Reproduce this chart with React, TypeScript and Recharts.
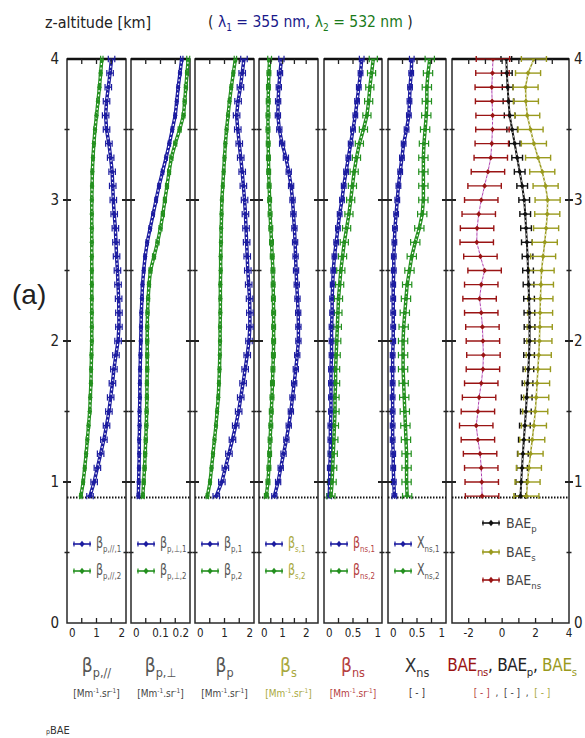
import React from "react";
import {
  ScatterChart,
  Scatter,
  XAxis,
  YAxis,
  ErrorBar,
  ReferenceArea,
  ReferenceLine,
  Legend,
} from "recharts";

const FONT = "'Liberation Sans Narrow', 'DejaVu Sans Condensed', 'Liberation Sans', Arial, sans-serif";

const BLUE = "#1c1ca0";
const GREEN = "#24901f";
const OLIVE = "#9a9a1e";
const OLIVE_TXT = "#a8a83e";
const DARKRED = "#9a1414";
const ROSE = "#b5403f";
const GREY_TXT = "#555";

// altitude levels of the profiles [km]
const Z_KM = [0.9, 1.0, 1.1, 1.2, 1.3, 1.4, 1.5, 1.6, 1.7, 1.8, 1.9, 2.0, 2.1, 2.2, 2.3, 2.4, 2.5, 2.6, 2.7, 2.8, 2.9, 3.0, 3.1, 3.2, 3.3, 3.4, 3.5, 3.6, 3.7, 3.8, 3.9, 4.0];

// beta p,// [Mm-1 sr-1]
const BETA_PAR_1 = [0.78, 0.92, 1.03, 1.14, 1.25, 1.34, 1.42, 1.48, 1.54, 1.59, 1.66, 1.73, 1.76, 1.76, 1.75, 1.73, 1.71, 1.68, 1.66, 1.64, 1.6, 1.57, 1.55, 1.53, 1.48, 1.42, 1.34, 1.31, 1.34, 1.4, 1.46, 1.51];
const BETA_PAR_2 = [0.47, 0.55, 0.6, 0.65, 0.69, 0.73, 0.77, 0.79, 0.81, 0.82, 0.83, 0.84, 0.84, 0.84, 0.84, 0.84, 0.84, 0.84, 0.84, 0.84, 0.84, 0.84, 0.85, 0.86, 0.88, 0.91, 0.95, 1.0, 1.05, 1.1, 1.14, 1.18];
// beta p,perp
const BETA_PERP_1 = [0.025, 0.026, 0.027, 0.028, 0.028, 0.029, 0.029, 0.03, 0.03, 0.031, 0.032, 0.033, 0.034, 0.035, 0.037, 0.039, 0.043, 0.048, 0.055, 0.065, 0.075, 0.085, 0.095, 0.107, 0.119, 0.13, 0.14, 0.15, 0.155, 0.16, 0.166, 0.172];
const BETA_PERP_2 = [0.04, 0.043, 0.046, 0.048, 0.05, 0.052, 0.053, 0.054, 0.054, 0.055, 0.055, 0.055, 0.055, 0.056, 0.058, 0.061, 0.066, 0.078, 0.09, 0.1, 0.108, 0.115, 0.122, 0.129, 0.137, 0.15, 0.165, 0.178, 0.182, 0.186, 0.19, 0.194];
// beta p
const BETA_P_1 = [0.72, 0.91, 1.03, 1.15, 1.27, 1.38, 1.48, 1.55, 1.63, 1.7, 1.77, 1.83, 1.86, 1.86, 1.85, 1.82, 1.79, 1.77, 1.75, 1.73, 1.71, 1.68, 1.64, 1.6, 1.55, 1.5, 1.45, 1.41, 1.46, 1.54, 1.6, 1.66];
const BETA_P_2 = [0.42, 0.51, 0.56, 0.61, 0.66, 0.71, 0.75, 0.79, 0.81, 0.83, 0.84, 0.85, 0.85, 0.86, 0.86, 0.86, 0.87, 0.87, 0.88, 0.89, 0.9, 0.91, 0.94, 0.97, 1.0, 1.03, 1.07, 1.12, 1.17, 1.23, 1.3, 1.37];
// beta s
const BETA_S_1 = [0.65, 0.81, 0.92, 1.04, 1.16, 1.26, 1.35, 1.42, 1.49, 1.56, 1.62, 1.67, 1.67, 1.66, 1.63, 1.6, 1.57, 1.55, 1.53, 1.5, 1.46, 1.42, 1.36, 1.26, 1.14, 0.98, 0.86, 0.8, 0.81, 0.84, 0.89, 0.95];
const BETA_S_2 = [0.31, 0.38, 0.42, 0.45, 0.47, 0.5, 0.52, 0.55, 0.57, 0.59, 0.61, 0.62, 0.62, 0.62, 0.61, 0.6, 0.59, 0.56, 0.53, 0.5, 0.47, 0.45, 0.43, 0.41, 0.4, 0.39, 0.38, 0.38, 0.39, 0.4, 0.42, 0.45];
// beta ns
const BETA_NS_1 = [0.09, 0.1, 0.1, 0.11, 0.11, 0.11, 0.12, 0.12, 0.12, 0.12, 0.13, 0.13, 0.13, 0.14, 0.14, 0.15, 0.16, 0.18, 0.21, 0.24, 0.27, 0.31, 0.34, 0.38, 0.42, 0.46, 0.5, 0.54, 0.57, 0.6, 0.63, 0.65];
const BETA_NS_2 = [0.12, 0.14, 0.15, 0.16, 0.17, 0.18, 0.19, 0.19, 0.2, 0.2, 0.21, 0.22, 0.23, 0.24, 0.25, 0.27, 0.29, 0.32, 0.35, 0.39, 0.43, 0.46, 0.49, 0.52, 0.56, 0.61, 0.68, 0.74, 0.77, 0.79, 0.82, 0.85];
// X ns
const X_NS_1 = [0.11, 0.1, 0.09, 0.09, 0.08, 0.08, 0.08, 0.08, 0.08, 0.08, 0.08, 0.09, 0.09, 0.09, 0.09, 0.09, 0.1, 0.1, 0.11, 0.12, 0.14, 0.16, 0.18, 0.21, 0.24, 0.27, 0.32, 0.36, 0.37, 0.38, 0.4, 0.41];
const X_NS_2 = [0.33, 0.32, 0.32, 0.32, 0.31, 0.3, 0.29, 0.28, 0.27, 0.26, 0.26, 0.26, 0.27, 0.29, 0.31, 0.33, 0.37, 0.41, 0.47, 0.54, 0.59, 0.61, 0.61, 0.61, 0.61, 0.62, 0.64, 0.66, 0.67, 0.67, 0.69, 0.72];
// BAE
const BAE_P = [1.1, 1.14, 1.19, 1.24, 1.3, 1.36, 1.42, 1.47, 1.52, 1.57, 1.61, 1.64, 1.64, 1.63, 1.61, 1.58, 1.55, 1.52, 1.48, 1.43, 1.38, 1.32, 1.2, 1.05, 0.9, 0.75, 0.6, 0.45, 0.38, 0.33, 0.28, 0.25];
const BAE_S = [1.45, 1.52, 1.6, 1.7, 1.8, 1.9, 1.98, 2.04, 2.09, 2.14, 2.19, 2.23, 2.25, 2.27, 2.29, 2.32, 2.36, 2.45, 2.55, 2.63, 2.7, 2.72, 2.6, 2.4, 2.15, 1.9, 1.7, 1.5, 1.42, 1.4, 1.55, 1.9];
const BAE_NS = [-1.2, -1.22, -1.25, -1.32, -1.45, -1.55, -1.45, -1.38, -1.25, -1.15, -1.12, -1.15, -1.18, -1.25, -1.35, -1.25, -1.05, -1.3, -1.52, -1.5, -1.4, -1.25, -1.05, -0.85, -0.68, -0.62, -0.58, -0.57, -0.6, -0.62, -0.58, -0.55];

const Z_TICKS = [0, 0.5, 1, 1.5, 2, 2.5, 3, 3.5, 4];
const CLOUD_BASE_KM = 0.89;

const TICKS_0_2 = [0, 0.5, 1, 1.5, 2];
const LABELS_0_2 = [0, 1, 2];
const TICKS_PERP = [0, 0.05, 0.1, 0.15, 0.2];
const LABELS_PERP = [0, 0.1, 0.2];
const TICKS_S = [0, 0.5, 1, 1.5, 2, 2.5];
const LABELS_S = [0, 1, 2];
const TICKS_0_1 = [0, 0.25, 0.5, 0.75, 1];
const LABELS_0_1 = [0, 0.5, 1];
const TICKS_BAE = [-3, -2, -1, 0, 1, 2, 3, 4];
const LABELS_BAE = [-2, 0, 2, 4];

// layout
const PLOT_TOP = 59;
const PLOT_H = 564;
const AX_W = 24;
const M_TOP = 14;
const M_RIGHT = 18;
const X_H = 24;

const blue = (sub: string, values: number[], err: number) => ({ symbol: "β", sub, values, err, color: BLUE, line: BLUE, band: 3.5 });
const green = (sub: string, values: number[], err: number) => ({ symbol: "β", sub, values, err, color: GREEN, line: GREEN, band: 3.5 });

const PANELS = [
  {
    key: "par", left: 67, width: 59, domain: [0, 2], ticks: TICKS_0_2, labels: LABELS_0_2, keyColor: GREY_TXT, zLeft: true,
    series: [blue("p,//,1", BETA_PAR_1, 0.11), green("p,//,2", BETA_PAR_2, 0.04)],
  },
  {
    key: "perp", left: 131, width: 59, domain: [0, 0.2], ticks: TICKS_PERP, labels: LABELS_PERP, keyColor: GREY_TXT,
    series: [blue("p,⊥,1", BETA_PERP_1, 0.004), green("p,⊥,2", BETA_PERP_2, 0.005)],
  },
  {
    key: "p", left: 195, width: 59, domain: [0, 2], ticks: TICKS_0_2, labels: LABELS_0_2, keyColor: GREY_TXT,
    series: [blue("p,1", BETA_P_1, 0.11), green("p,2", BETA_P_2, 0.04)],
  },
  {
    key: "s", left: 259, width: 59, domain: [0, 2.5], ticks: TICKS_S, labels: LABELS_S, keyColor: OLIVE_TXT,
    series: [blue("s,1", BETA_S_1, 0.11), green("s,2", BETA_S_2, 0.08)],
  },
  {
    key: "ns", left: 324, width: 58, domain: [0, 1], ticks: TICKS_0_1, labels: LABELS_0_1, keyColor: ROSE,
    series: [blue("ns,1", BETA_NS_1, 0.04), green("ns,2", BETA_NS_2, 0.07)],
  },
  {
    key: "xns", left: 388, width: 58, domain: [0, 1], ticks: TICKS_0_1, labels: LABELS_0_1, keyColor: GREY_TXT,
    series: [
      { ...blue("ns,1", X_NS_1, 0.04), symbol: "X" },
      { ...green("ns,2", X_NS_2, 0.08), symbol: "X" },
    ],
  },
  {
    key: "bae", left: 452, width: 117, domain: [-3, 4], ticks: TICKS_BAE, labels: LABELS_BAE, keyColor: "#444", zRight: true, centerEdges: true,
    series: [
      { symbol: "BAE", sub: "p", values: BAE_P, err: 0.32, color: "#111", line: "#111", band: 2 },
      { symbol: "BAE", sub: "s", values: BAE_S, err: 0.75, color: OLIVE, line: OLIVE, band: 1.5 },
      { symbol: "BAE", sub: "ns", values: BAE_NS, err: 1.0, color: DARKRED, line: "#b040b0", band: 1 },
    ],
  },
];

function Diamond({ cx, cy, color }: any) {
  if (cx == null || cy == null) return <g />;
  return <polygon points={`${cx},${cy - 2.8} ${cx + 2.4},${cy} ${cx},${cy + 2.8} ${cx - 2.4},${cy}`} fill={color} />;
}

function AltTick(props: any) {
  const { x, y, payload, panel } = props;
  const v = payload.value as number;
  const major = Number.isInteger(v);
  const r = x + panel.width;
  const len = major ? 4 : 2.5;
  const w = major ? 2 : 1.5;
  return (
    <g>
      {v > 0 && v < 4 && (
        <g>
          <line x1={x - len} x2={x + len} y1={y} y2={y} stroke="#222" strokeWidth={w} />
          <line x1={r - len} x2={r + len} y1={y} y2={y} stroke="#222" strokeWidth={w} />
        </g>
      )}
      {panel.zLeft && major && (
        <text x={x - 8} y={y} dy="0.36em" textAnchor="end" fontSize={15} fill="#222" fontFamily={FONT}>
          {v}
        </text>
      )}
      {panel.zRight && major && (
        <text x={r + 5} y={y} dy="0.36em" textAnchor="start" fontSize={15} fill="#222" fontFamily={FONT}>
          {v}
        </text>
      )}
    </g>
  );
}

function ValueTick(props: any) {
  const { x, y, payload, panel } = props;
  const v = payload.value as number;
  const [lo, hi] = panel.domain;
  const inner = v > lo && v < hi;
  const top = y - PLOT_H;
  let anchor = "middle";
  let dx = 0;
  if (!panel.centerEdges && v === lo) {
    anchor = "start";
    dx = 2;
  }
  if (!panel.centerEdges && v === hi) {
    anchor = "end";
    dx = -1;
  }
  return (
    <g>
      {inner && (
        <g>
          <line x1={x} x2={x} y1={y} y2={y - 5} stroke="#222" strokeWidth={1.3} />
          <line x1={x} x2={x} y1={top} y2={top + 5} stroke="#222" strokeWidth={1.3} />
        </g>
      )}
      {panel.labels.includes(v) && (
        <text x={x + dx} y={y + 14} textAnchor={anchor} fontSize={11.5} fill="#222" fontFamily={FONT}>
          {v}
        </text>
      )}
    </g>
  );
}

function KeyMarker({ color }: { color: string }) {
  return (
    <svg width={20} height={12} style={{ display: "block", flex: "none" }}>
      <line x1={1} x2={19} y1={6} y2={6} stroke={color} strokeWidth={1.6} />
      <line x1={2} x2={2} y1={3.5} y2={8.5} stroke={color} strokeWidth={1.2} />
      <line x1={18} x2={18} y1={3.5} y2={8.5} stroke={color} strokeWidth={1.2} />
      <polygon points="10,2.8 12.6,6 10,9.2 7.4,6" fill={color} />
    </svg>
  );
}

function SeriesKey({ panel }: any) {
  const bae = panel.key === "bae";
  return (
    <div style={{ fontFamily: FONT }}>
      {panel.series.map((s: any) => (
        <div key={s.sub} style={{ display: "flex", alignItems: "center", height: bae ? 28.5 : 27, whiteSpace: "nowrap" }}>
          <KeyMarker color={s.color} />
          <span
            style={{
              marginLeft: bae ? 5 : 4,
              color: panel.keyColor,
              fontSize: bae ? 14 : 15,
              lineHeight: 1,
              display: "inline-block",
              transform: bae ? "none" : "scaleX(0.82)",
              transformOrigin: "left center",
            }}
          >
            {s.symbol}
            <span style={{ fontSize: bae ? 9.5 : 9.5, position: "relative", top: 4 }}>{s.sub}</span>
          </span>
        </div>
      ))}
    </div>
  );
}

function ProfilePanel({ panel }: any) {
  const chartW = AX_W + panel.width + M_RIGHT;
  const chartTop = PLOT_TOP - M_TOP;
  const bae = panel.key === "bae";
  return (
    <div style={{ position: "absolute", left: panel.left - AX_W, top: chartTop }}>
      <ScatterChart width={chartW} height={M_TOP + PLOT_H + X_H} margin={{ top: M_TOP, right: M_RIGHT, bottom: 0, left: 0 }}>
        <XAxis
          type="number"
          dataKey="x"
          domain={panel.domain}
          ticks={panel.ticks}
          interval={0}
          allowDataOverflow
          height={X_H}
          tickSize={0}
          tickMargin={0}
          axisLine={false}
          tickLine={false}
          tick={<ValueTick panel={panel} />}
        />
        <YAxis
          type="number"
          dataKey="z"
          domain={[0, 4]}
          ticks={Z_TICKS}
          interval={0}
          allowDataOverflow
          width={AX_W}
          tickSize={0}
          tickMargin={0}
          axisLine={false}
          tickLine={false}
          tick={<AltTick panel={panel} />}
        />
        <ReferenceArea x1={panel.domain[0]} x2={panel.domain[1]} y1={0} y2={4} fill="none" stroke="#2a2a2a" strokeWidth={1.5} />
        <ReferenceLine y={4} stroke="#111" strokeWidth={2.5} />
        <ReferenceLine y={CLOUD_BASE_KM} stroke="#111" strokeWidth={2} strokeDasharray="1.5 1.5" />
        {panel.series.flatMap((s: any) => {
          const rows = Z_KM.map((z, i) => ({ z, x: s.values[i], err: s.err }));
          return [
            <Scatter
              key={s.sub + "-band"}
              data={rows}
              fill={s.color}
              line={{ stroke: s.line, strokeWidth: s.band }}
              shape={() => <g />}
              legendType="none"
              isAnimationActive={false}
            >
              <ErrorBar dataKey="err" direction="x" width={bae ? 3 : 3.2} stroke={s.color} strokeWidth={bae ? 1.4 : 1.2} />
            </Scatter>,
            <Scatter
              key={s.sub + "-dash"}
              data={rows}
              fill="#fff"
              line={{ stroke: "#fff", strokeWidth: bae ? 0.8 : 1.2, strokeDasharray: "2 2.5" }}
              shape={() => <g />}
              legendType="none"
              isAnimationActive={false}
            />,
            <Scatter
              key={s.sub + "-pts"}
              data={rows}
              fill={s.color}
              shape={(p: any) => <Diamond cx={p.cx} cy={p.cy} color={s.color} />}
              legendType="none"
              isAnimationActive={false}
            />,
          ];
        })}
        <Legend
          layout="horizontal"
          verticalAlign="middle"
          align="center"
          wrapperStyle={{
            left: AX_W + (bae ? 29 : 5),
            top: bae ? 509 - chartTop : 530 - chartTop,
            width: panel.width,
          }}
          content={() => <SeriesKey panel={panel} />}
        />
      </ScatterChart>
    </div>
  );
}

const CAPTIONS = [
  { x: 96.5, symbol: "β", sub: "p,//", color: GREY_TXT, unit: "mm" },
  { x: 160.5, symbol: "β", sub: "p,⊥", color: GREY_TXT, unit: "mm" },
  { x: 224.5, symbol: "β", sub: "p", color: GREY_TXT, unit: "mm" },
  { x: 288.5, symbol: "β", sub: "s", color: OLIVE_TXT, unit: "mm" },
  { x: 353, symbol: "β", sub: "ns", color: ROSE, unit: "mm" },
  { x: 417, symbol: "X", sub: "ns", color: "#333", unit: "-" },
];

function Sym({ symbol, sub, color, size }: any) {
  return (
    <span style={{ color, fontSize: size }}>
      {symbol}
      <span style={{ fontSize: size * 0.66, position: "relative", top: size * 0.28 }}>{sub}</span>
    </span>
  );
}

function Unit({ color }: any) {
  return (
    <span style={{ color }}>
      [Mm<sup style={{ fontSize: 6.5 }}>-1</sup>.sr<sup style={{ fontSize: 6.5 }}>-1</sup>]
    </span>
  );
}

export default function App() {
  return (
    <div
      style={{
        position: "absolute",
        left: 0,
        top: 0,
        width: 585,
        height: 738,
        overflow: "hidden",
        background: "#fff",
        fontFamily: FONT,
      }}
    >
      <div style={{ position: "absolute", left: 45, top: 13, fontSize: 16, color: "#222" }}>z-altitude [km]</div>
      <div style={{ position: "absolute", left: 208, top: 13, fontSize: 15.5, color: "#222", whiteSpace: "nowrap" }}>
        (&nbsp;
        <span style={{ color: "#1a1a8a" }}>
          λ<span style={{ fontSize: 10, position: "relative", top: 4 }}>1</span> = 355 nm,
        </span>{" "}
        <span style={{ color: "#1a7a1a" }}>
          λ<span style={{ fontSize: 10, position: "relative", top: 4 }}>2</span> = 532 nm
        </span>
        &nbsp;)
      </div>
      <div style={{ position: "absolute", left: 12, top: 279, fontSize: 28, color: "#222", fontFamily: "'Liberation Sans', Arial, sans-serif" }}>
        (a)
      </div>

      {PANELS.map((p) => (
        <ProfilePanel key={p.key} panel={p} />
      ))}

      {CAPTIONS.map((c) => (
        <div key={c.x} style={{ position: "absolute", left: c.x, top: 654, transform: "translateX(-50%)", textAlign: "center", whiteSpace: "nowrap" }}>
          <div style={{ lineHeight: "22px" }}>
            <Sym symbol={c.symbol} sub={c.sub} color={c.color} size={19} />
          </div>
          <div style={{ fontSize: 10, marginTop: 8, color: c.color === GREY_TXT ? "#444" : c.color }}>
            {c.unit === "mm" ? <Unit color={c.color === GREY_TXT ? "#444" : c.color} /> : "[ - ]"}
          </div>
        </div>
      ))}

      <div style={{ position: "absolute", left: 512, top: 654, transform: "translateX(-50%)", whiteSpace: "nowrap", textAlign: "center" }}>
        <div style={{ lineHeight: "22px", letterSpacing: -0.3 }}>
          <Sym symbol="BAE" sub="ns" color={DARKRED} size={17} />
          <span style={{ fontSize: 17, color: "#222" }}>, </span>
          <Sym symbol="BAE" sub="p" color="#222" size={17} />
          <span style={{ fontSize: 17, color: "#222" }}>, </span>
          <Sym symbol="BAE" sub="s" color={OLIVE} size={17} />
        </div>
        <div style={{ fontSize: 10, marginTop: 8 }}>
          <span style={{ color: ROSE }}>[ - ]</span>
          <span style={{ color: "#444" }}>&nbsp;&nbsp;,&nbsp;&nbsp;[ - ]&nbsp;&nbsp;,&nbsp;&nbsp;</span>
          <span style={{ color: OLIVE_TXT }}>[ - ]</span>
        </div>
      </div>

      <div style={{ position: "absolute", left: 46, top: 724, fontSize: 11, color: "#333" }}>
        <span style={{ fontSize: 7 }}>p</span>BAE
      </div>
    </div>
  );
}
